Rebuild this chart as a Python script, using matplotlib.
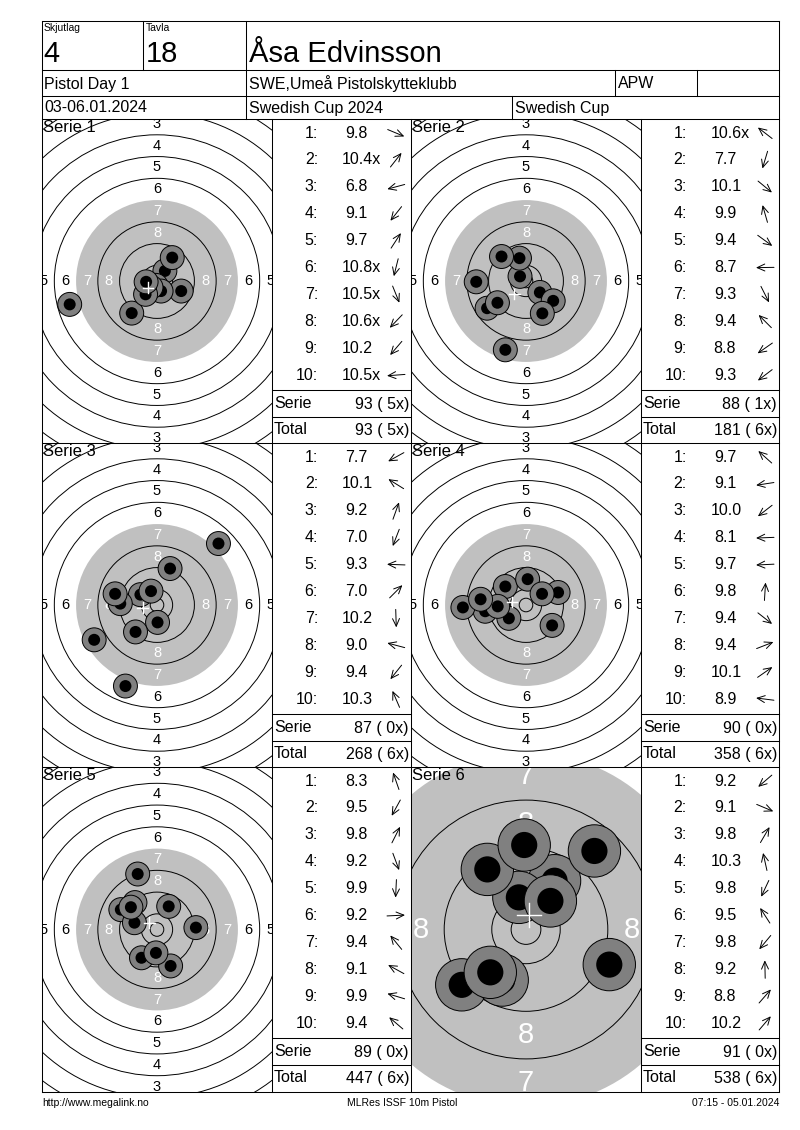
import numpy as np
import matplotlib
matplotlib.use('Agg')
import matplotlib.pyplot as plt
from matplotlib.patches import Circle

plt.rcParams['font.family'] = ['Liberation Sans', 'DejaVu Sans']

W, H = 800, 1130

# header
skjutlag = '4'
tavla = '18'
name = 'Åsa Edvinsson'
klass = 'Pistol Day 1'
club = 'SWE,Umeå Pistolskytteklubb'
cls = 'APW'
dates = '03-06.01.2024'
event = 'Swedish Cup 2024'
event2 = 'Swedish Cup'

# shots per serie: score text, x/y in mm from target centre (x right, y up)
s1_scores = ['9.8', '10.4x', '6.8', '9.1', '9.7', '10.8x', '10.5x', '10.6x', '10.2', '10.5x']
s1_x = [8.9, 2.9, -32.1, -9.3, 5.6, -0.4, 1.5, -2.2, -4.2, -4.0]
s1_y = [-3.7, 3.7, -8.6, -11.8, 8.6, -1.6, -3.7, -2.3, -4.9, -0.3]

s2_scores = ['10.6x', '7.7', '10.1', '9.9', '9.4', '8.7', '9.3', '9.4', '8.8', '9.3']
s2_x = [-2.2, -7.6, 5.1, -2.4, 10.0, -18.3, 6.0, -9.0, -14.3, -10.5]
s2_y = [1.7, -25.3, -4.2, 8.4, -7.3, -0.3, -11.9, 9.0, -10.0, -8.0]

s3_scores = ['7.7', '10.1', '9.2', '7.0', '9.3', '7.0', '10.2', '9.0', '9.4', '10.3']
s3_x = [-23.1, -6.1, 4.8, -11.6, -13.5, 22.6, 0.2, -15.4, -7.9, -2.2]
s3_y = [-12.8, 3.8, 13.4, -29.8, 0.5, 22.6, -6.4, 4.1, -9.9, 5.1]

s4_scores = ['9.7', '9.1', '10.0', '8.1', '9.7', '9.8', '9.4', '9.4', '10.1', '8.9']
s4_x = [-7.6, -15.0, -6.3, -23.2, -10.4, 0.6, 9.6, 11.8, 5.9, -16.7]
s4_y = [6.8, -2.3, -4.9, -0.9, -0.5, 9.5, -7.5, 4.6, 4.1, 2.1]

s5_scores = ['8.3', '9.5', '9.8', '9.2', '9.9', '9.2', '9.4', '9.1', '9.9', '9.4']
s5_x = [-7.1, -5.7, 4.3, 5.0, -0.4, 14.3, -8.1, -13.3, -8.3, -9.6]
s5_y = [20.4, -10.4, 8.5, -13.4, -8.6, 0.7, 9.9, 7.3, 2.5, 8.2]

s6_scores = ['9.2', '9.1', '9.8', '10.3', '9.8', '9.5', '9.8', '9.2', '8.8', '10.2']
s6_x = [-10.8, 14.0, 4.8, -1.2, -4.0, -6.5, -6.0, -0.3, 11.5, 4.1]
s6_y = [-9.3, -5.9, 8.2, 5.4, -8.5, 10.1, -7.2, 14.2, 13.2, 4.8]

serie_sum = [93, 88, 87, 90, 89, 91]
serie_inner = [5, 1, 0, 0, 0, 0]
total_sum = [93, 181, 268, 358, 447, 538]
total_inner = [5, 6, 6, 6, 6, 6]

all_scores = [s1_scores, s2_scores, s3_scores, s4_scores, s5_scores, s6_scores]
all_x = [s1_x, s2_x, s3_x, s4_x, s5_x, s6_x]
all_y = [s1_y, s2_y, s3_y, s4_y, s5_y, s6_y]

fig = plt.figure(figsize=(8, 11.3), dpi=100)


def px_axes(x0, y0, x1, y1):
    return fig.add_axes([x0 / W, 1 - y1 / H, (x1 - x0) / W, (y1 - y0) / H])


def draw_target(ax, xs, ys, scale, title, lab_size, wpx, hpx):
    hw, hh = wpx / 2 / scale, hpx / 2 / scale
    ax.set_xlim(-hw, hw)
    ax.set_ylim(-hh, hh)
    ax.set_xticks([])
    ax.set_yticks([])
    for sp in ax.spines.values():
        sp.set_visible(False)
    ax.add_patch(Circle((0, 0), 29.75, fc='#c0c0c0', ec='none', zorder=1))
    for n in range(1, 11):
        if n == 7:
            continue
        r = 5.75 + 8 * (10 - n)
        ax.add_patch(Circle((0, 0), r, fill=False, ec='black', lw=0.7, zorder=2))
    ax.add_patch(Circle((0, 0), 2.5, fill=False, ec='black', lw=0.7, zorder=2))
    for n in range(1, 9):
        rm = 1.75 + 8 * (10 - n)
        col = 'white' if n >= 7 else 'black'
        for px, py in [(0, rm), (0, -rm), (-rm, 0), (rm, 0)]:
            if abs(px) > hw + 3 or abs(py) > hh + 3:
                continue
            t = ax.text(px, py, str(n), color=col, fontsize=lab_size, ha='center',
                        va='center', zorder=2.5)
            t.set_clip_box(ax.bbox)
            t.set_clip_on(True)
    for i, (x, y) in enumerate(zip(xs, ys)):
        ax.add_patch(Circle((x, y), 4.4, fc='#808080', ec='black', lw=0.7, zorder=3 + i * 0.01))
        ax.add_patch(Circle((x, y), 2.2, fc='black', ec='none', zorder=3.005 + i * 0.01))
    mx, my = np.mean(xs), np.mean(ys)
    ax.plot([mx - 2, mx + 2], [my, my], color='white', lw=1, zorder=10)
    ax.plot([mx, mx], [my - 2, my + 2], color='white', lw=1, zorder=10)
    ax.text(0.005, 0.998, title, transform=ax.transAxes, ha='left', va='top',
            fontsize=12, zorder=11)


rows = [119, 443, 767, 1092]
cols = [(42, 272, 411), (411, 641, 779)]
scales = [2.72, 2.72, 2.72, 2.72, 2.72, 5.95]
lab_sizes = [10.5, 10.5, 10.5, 10.5, 10.5, 21]

for k in range(6):
    r, c = k // 2, k % 2
    x0, x1, _ = cols[c]
    y0, y1 = rows[r], rows[r + 1]
    ax = px_axes(x0, y0, x1, y1)
    draw_target(ax, all_x[k], all_y[k], scales[k], 'Serie %d' % (k + 1),
                lab_sizes[k], x1 - x0, y1 - y0)

# overlay for table lines and texts
ov = fig.add_axes([0, 0, 1, 1])
ov.set_xlim(0, W)
ov.set_ylim(H, 0)
ov.axis('off')
ov.patch.set_alpha(0)

lw = 0.75


def hline(y, xa, xb):
    ov.plot([xa, xb], [y, y], color='black', lw=lw, clip_on=False)


def vline(x, ya, yb):
    ov.plot([x, x], [ya, yb], color='black', lw=lw, clip_on=False)


# outer frame and header grid
hline(21, 42, 779)
hline(1092, 42, 779)
vline(42, 21, 1092)
vline(779, 21, 1092)
hline(70, 42, 779)
hline(96, 42, 779)
hline(119, 42, 779)
hline(443, 42, 779)
hline(767, 42, 779)
vline(143, 21, 70)
vline(246, 21, 119)
vline(615, 70, 96)
vline(697, 70, 96)
vline(512, 96, 119)
for xv in [272, 411, 641]:
    vline(xv, 119, 1092)

ov.text(44, 23, 'Skjutlag', fontsize=7.5, ha='left', va='top')
ov.text(146, 23, 'Tavla', fontsize=7.5, ha='left', va='top')
ov.text(43, 54, skjutlag, fontsize=21, ha='left', va='center')
ov.text(146, 54, tavla, fontsize=21, ha='left', va='center')
ov.text(249, 54, name, fontsize=21, ha='left', va='center')
ov.text(44, 84, klass, fontsize=11.5, ha='left', va='center')
ov.text(249, 84, club, fontsize=11.5, ha='left', va='center')
ov.text(618, 84, cls, fontsize=11.5, ha='left', va='center')
ov.text(44, 108, dates, fontsize=11.5, ha='left', va='center')
ov.text(249, 108, event, fontsize=11.5, ha='left', va='center')
ov.text(515, 108, event2, fontsize=11.5, ha='left', va='center')

# shot lists
for k in range(6):
    r, c = k // 2, k % 2
    _, L, R = cols[c]
    top = rows[r]
    hline(top + 271, L, R)
    hline(top + 298, L, R)
    for i, s in enumerate(all_scores[k]):
        yy = top + 14 + i * 26.9
        ov.text(L + 46, yy, '%d:' % (i + 1), fontsize=11.5, ha='right', va='center')
        num = s.rstrip('x')
        if len(num) >= 4:
            ov.text(L + 70, yy, s, fontsize=11.5, ha='left', va='center')
        else:
            ov.text(L + 84, yy, s, fontsize=11.5, ha='center', va='center')
        ang = np.arctan2(all_y[k][i], all_x[k][i])
        dx, dy = 9 * np.cos(ang), -9 * np.sin(ang)
        cx = L + 124
        ov.annotate('', xy=(cx + dx, yy + dy), xytext=(cx - dx, yy - dy),
                    arrowprops=dict(arrowstyle='->,head_length=0.55,head_width=0.25',
                                    lw=0.7, color='black', shrinkA=0, shrinkB=0),
                    annotation_clip=False)
    ov.text(L + 2, top + 285, 'Serie', fontsize=11.5, ha='left', va='center')
    ov.text(R - 2, top + 285, '%d (%2dx)' % (serie_sum[k], serie_inner[k]),
            fontsize=11.5, ha='right', va='center')
    ov.text(L + 2, top + 311, 'Total', fontsize=11.5, ha='left', va='center')
    ov.text(R - 2, top + 311, '%d (%2dx)' % (total_sum[k], total_inner[k]),
            fontsize=11.5, ha='right', va='center')

# footer
ov.text(42, 1103, 'http://www.megalink.no', fontsize=7.5, ha='left', va='center')
ov.text(402, 1103, 'MLRes ISSF 10m Pistol', fontsize=7.5, ha='center', va='center')
ov.text(779, 1103, '07:15 - 05.01.2024', fontsize=7.5, ha='right', va='center')

fig.savefig('out.png', dpi=100, facecolor='white')
